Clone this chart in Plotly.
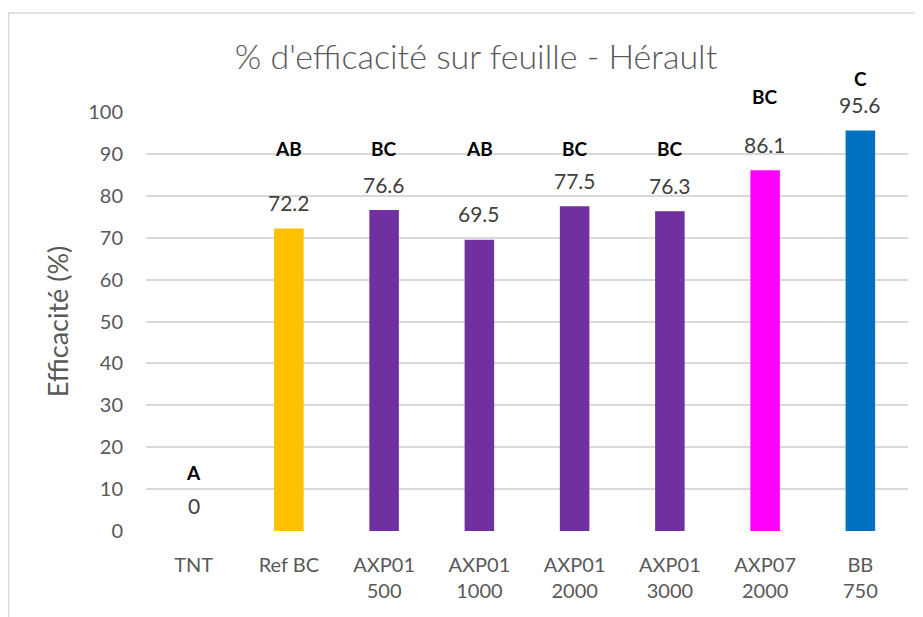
import plotly.graph_objects as go

categories = ["TNT", "Ref BC", "AXP01 500", "AXP01 1000", "AXP01 2000", "AXP01 3000", "AXP07 2000", "BB 750"]
tick_labels = ["TNT", "Ref BC", "AXP01<br>500", "AXP01<br>1000", "AXP01<br>2000", "AXP01<br>3000", "AXP07<br>2000", "BB<br>750"]
values = [0, 72.2, 76.6, 69.5, 77.5, 76.3, 86.1, 95.6]
letters = ["A", "AB", "BC", "AB", "BC", "BC", "BC", "C"]
colors = ["#FFC000", "#FFC000", "#7030A0", "#7030A0", "#7030A0", "#7030A0", "#FF00FF", "#0070C0"]
y_ticks = list(range(0, 101, 10))

# letter label heights (annotation placement, in axis units)
letter_pos = [14, 91.4, 91.4, 91.4, 91.4, 91.4, 103.6, 108]

FONT = "Lato"
W, H = 915, 609          # page body has an 8px margin
L, R, T, B = 138, 15, 104, 86
PW, PH = W - L - R, H - T - B

fig = go.Figure()
fig.add_trace(go.Bar(
    x=categories, y=values, marker=dict(color=colors, line=dict(width=0)),
    width=0.31, showlegend=False, hoverinfo="skip",
))

annotations = []
for c, v in zip(categories, values):
    annotations.append(dict(x=c, y=v, text=f"{v:g}", showarrow=False, yshift=26,
                            yanchor="middle", font=dict(family=FONT, size=21, color="#404040")))
for c, l, p in zip(categories, letters, letter_pos):
    annotations.append(dict(x=c, xref="x", y=p / 100, yref="paper", text=f"<b>{l}</b>",
                            showarrow=False, yanchor="middle",
                            font=dict(family=FONT, size=19, color="#000000")))

fig.update_layout(
    width=W, height=H,
    margin=dict(l=L, r=R, t=T, b=B),
    paper_bgcolor="white", plot_bgcolor="white",
    title=dict(text="% d'efficacité sur feuille - Hérault", x=(476 - 8) / W, xanchor="center",
               y=1 - 49 / H, yanchor="middle",
               font=dict(family=FONT, size=34, color="#595959", weight=300)),
    xaxis=dict(tickmode="array", tickvals=categories, ticktext=tick_labels,
               range=[-0.5, 7.5], showgrid=False, zeroline=False, showline=False,
               tickfont=dict(family=FONT, size=20, color="#595959"), ticks="",
               ticklabelstandoff=20),
    yaxis=dict(range=[0, 100], tickvals=y_ticks, showgrid=True, gridcolor="#D9D9D9",
               gridwidth=1.5, zeroline=False, showline=False, ticks="",
               tickfont=dict(family=FONT, size=20, color="#595959"),
               ticklabelstandoff=22,
               title=dict(text="Efficacité (%)", standoff=11,
                          font=dict(family=FONT, size=27, color="#595959"))),
    annotations=annotations,
    shapes=[dict(type="rect", xref="paper", yref="paper", x0=(0.5 - L) / PW, x1=1.2,
                 y0=-0.5, y1=(H - B - 5) / PH, line=dict(color="#D9D9D9", width=1.5),
                 layer="below")],
)
fig.write_html("out.html")
